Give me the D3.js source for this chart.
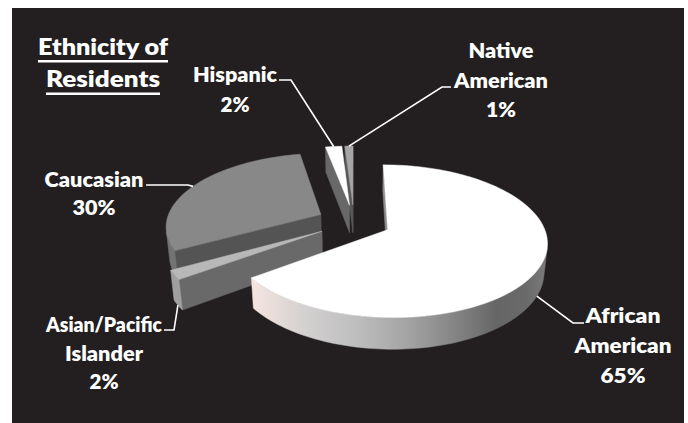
<!DOCTYPE html>
<html><head><meta charset="utf-8">
<script src="https://cdn.jsdelivr.net/npm/d3@7"></script>
<style>html,body{margin:0;padding:0;background:#fff;} svg{display:block}</style>
</head><body><svg id="chart" width="688" height="423"></svg>
<script>
// ---------- data ----------
const categories = ["African American","Asian/Pacific Islander","Caucasian","Hispanic","Native American"];
const values = [65, 2, 30, 2, 1];
const nameLines = [["African","American"],["Asian/Pacific","Islander"],["Caucasian"],["Hispanic"],["Native","American"]];
const titleLines = ["Ethnicity of","Residents"];

// ---------- layout / style ----------
const W = 688, H = 423;
const P = {cx:354, cy:250, S:152, tilt:29.6*Math.PI/180, D:6, h:0.21, explode:0.24};
const sliceStyle = {
  "African American":      {top:"#ffffff", side:"url(#aaSide)", radial:"#8c8c8c"},
  "Asian/Pacific Islander":{top:"#b8b8b8", side:"#a0a0a0", radial:"#696969"},
  "Caucasian":             {top:"#888888", side:"#737373", radial:"#545454"},
  "Hispanic":              {top:"#ffffff", side:"#8a8a8a", radial:"#686868"},
  "Native American":       {top:"#a6a6a6", side:"#777777", radial:"#585858"}
};
// label anchor (centre x, first baseline), line height, leader elbow points, rendered line widths
const labelLayout = {
  "African American":      {x:623, y:323, lh:30,   p0:[584,323], p1:[573,323], w:[75,97,45]},
  "Asian/Pacific Islander":{x:104, y:332, lh:28.5, p0:[164,330], p1:[174,330], w:[116,78,29]},
  "Caucasian":             {x:94,  y:187, lh:28,   p0:[146,185], p1:[188,185], w:[99,43]},
  "Hispanic":              {x:235, y:82,  lh:30,   p0:[279,80],  p1:[291,80],  w:[84,29]},
  "Native American":       {x:501, y:58,  lh:29.5, p0:[451,87],  p1:[442,87],  w:[65,94,30]}
};
const titleLayout = {x:103, y:[54.5, 87], w:[130, 114]};
const FONT = "Lato, 'Open Sans', sans-serif";

const svg = d3.select("#chart");
const defs = svg.append("defs");
const g1 = defs.append("linearGradient").attr("id","aaSide").attr("gradientUnits","userSpaceOnUse")
  .attr("x1",255).attr("y1",0).attr("x2",550).attr("y2",0);
[[0,"#f3e4df"],[0.18,"#d2cfcf"],[0.35,"#bdbdbd"],[0.52,"#a3a3a3"],[0.68,"#848484"],[0.82,"#666666"],[0.92,"#6a6a6a"],[1,"#7e7e7e"]]
  .forEach(([o,c])=>g1.append("stop").attr("offset",o).attr("stop-color",c));

svg.append("rect").attr("width",W).attr("height",H).attr("fill","#ffffff");
svg.append("rect").attr("x",12).attr("y",8).attr("width",672).attr("height",H-8).attr("fill","#231f20");

// ---------- projection ----------
const sa = Math.sin(P.tilt), ca = Math.cos(P.tilt);
const xs = d3.scaleLinear().domain([0,1]).range([P.cx, P.cx + P.S]);
const ys = d3.scaleLinear().domain([0,1]).range([P.cy, P.cy - P.S]);
function proj(p){
  const [x,y,z] = p;
  const Yp = y*ca + z*sa, d = z*ca - y*sa, f = P.D/(P.D + d);
  return [xs(x*f), ys(Yp*f)];
}
function depth(p){ return p[2]*ca - p[1]*sa; }
const cam = [0, P.D*sa, -P.D*ca];
function visible(n, p){ return n[0]*(cam[0]-p[0]) + n[1]*(cam[1]-p[1]) + n[2]*(cam[2]-p[2]) > 0; }
const line = d3.line();
function poly(pts3){ return line(pts3.map(proj)) + "Z"; }

const arcs = d3.pie().sort(null).value(d=>d)(values);
const total = d3.sum(values);
const pct = d3.format(".0%");

const slices = arcs.map((a,i)=>{
  const mid = (a.startAngle + a.endAngle)/2;
  const ox = P.explode*Math.sin(mid), oz = P.explode*Math.cos(mid);
  const rim = (ang,y)=>[ox+Math.sin(ang), y, oz+Math.cos(ang)];
  const n = Math.max(2, Math.ceil((a.endAngle-a.startAngle)/(Math.PI/120)));
  const angs = d3.range(n+1).map(k=>a.startAngle + (a.endAngle-a.startAngle)*k/n);
  const cTop = [ox,P.h,oz], cBot = [ox,0,oz];
  const faces = [];
  const st = sliceStyle[categories[i]];
  const a0 = a.startAngle, a1 = a.endAngle;
  const midOf = (ang)=>rim(ang,P.h/2).map((v,k)=>(v+[ox,P.h/2,oz][k])/2);
  if (visible([-Math.cos(a0),0,Math.sin(a0)], midOf(a0))) faces.push({d:poly([cTop, rim(a0,P.h), rim(a0,0), cBot]), fill:st.radial});
  if (visible([Math.cos(a1),0,-Math.sin(a1)], midOf(a1))) faces.push({d:poly([cTop, rim(a1,P.h), rim(a1,0), cBot]), fill:st.radial});
  let run = [];
  const flush = ()=>{
    if (run.length){
      const topPts = run.map(t=>rim(t,P.h)), botPts = run.slice().reverse().map(t=>rim(t,0));
      faces.push({d:poly(topPts.concat(botPts)), fill:st.side});
    }
    run = [];
  };
  for (let k=0;k<n;k++){
    const m = (angs[k]+angs[k+1])/2;
    if (visible([Math.sin(m),0,Math.cos(m)], rim(m,P.h/2))){
      if (!run.length) run.push(angs[k]);
      run.push(angs[k+1]);
    } else flush();
  }
  flush();
  faces.push({d:poly([cTop].concat(angs.map(t=>rim(t,P.h)))), fill:st.top});
  const allPts = [cTop,cBot].concat(angs.map(t=>rim(t,0)));
  const minDepth = d3.min(allPts, depth);
  const front = Math.cos(mid) < 0;
  const anchor = proj(rim(mid, front ? 0 : P.h));
  return {i, faces, minDepth, anchor, name:categories[i], value:values[i]};
});

const pieG = svg.append("g");
slices.slice().sort((a,b)=>b.minDepth - a.minDepth).forEach(s=>{
  const g = pieG.append("g").attr("class","slice");
  g.selectAll("path").data(s.faces).join("path")
    .attr("d",d=>d.d).attr("fill",d=>d.fill).attr("stroke",d=>d.fill).attr("stroke-width",0.5).attr("stroke-linejoin","round");
});

// ---------- leader lines & labels ----------
const lab = svg.append("g").attr("font-family",FONT).attr("font-weight",800).attr("font-size","21.5px").attr("fill","#ffffff").attr("text-anchor","middle");
slices.forEach(s=>{
  const L = labelLayout[s.name];
  svg.append("path").attr("d", d3.line()([L.p0, L.p1, s.anchor]))
    .attr("fill","none").attr("stroke","#ffffff").attr("stroke-width",1.6);
  const lines = nameLines[s.i].concat([pct(s.value/total)]);
  lines.forEach((t,k)=>{
    lab.append("text").attr("x",L.x).attr("y",L.y + k*L.lh)
      .attr("textLength",L.w[k]).attr("lengthAdjust","spacingAndGlyphs").text(t);
  });
});

// ---------- title ----------
const tg = svg.append("g").attr("font-family",FONT).attr("font-weight",800).attr("font-size","22px").attr("fill","#ffffff").attr("text-anchor","middle");
titleLines.forEach((t,k)=>{
  const y = titleLayout.y[k], w = titleLayout.w[k];
  tg.append("text").attr("x",titleLayout.x).attr("y",y)
    .attr("textLength",w).attr("lengthAdjust","spacingAndGlyphs").text(t);
  tg.append("rect").attr("x",titleLayout.x - w/2).attr("y",y+5.5).attr("width",w).attr("height",2.5).attr("fill","#ffffff");
});
</script>
</body></html>
